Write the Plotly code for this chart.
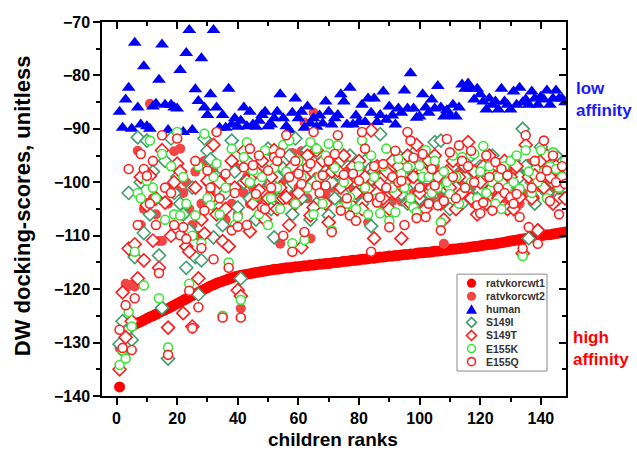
import plotly.graph_objects as go

ranks = list(range(1, 149))

wt1 = [-138.3, -131.5, -128.3, -127.2, -126.9, -126.6, -126.3, -126.1, -125.8, -125.5,
       -125.2, -125.0, -124.7, -124.4, -124.1, -123.9, -123.6, -123.3, -123.0, -122.7,
       -122.4, -122.1, -121.8, -121.5, -121.2, -120.9, -120.6, -120.3, -120.0, -119.7,
       -119.4, -119.2, -118.9, -118.7, -118.5, -118.3, -118.1, -117.9, -117.7, -117.6,
       -117.4, -117.3, -117.2, -117.1, -117.0, -116.9, -116.8, -116.7, -116.6, -116.5,
       -116.4, -116.3, -116.3, -116.2, -116.1, -116.0, -116.0, -115.9, -115.8, -115.8,
       -115.7, -115.6, -115.6, -115.5, -115.5, -115.4, -115.3, -115.3, -115.2, -115.2,
       -115.1, -115.0, -115.0, -114.9, -114.8, -114.8, -114.7, -114.6, -114.6, -114.5,
       -114.4, -114.4, -114.3, -114.2, -114.2, -114.1, -114.0, -114.0, -113.9, -113.8,
       -113.8, -113.7, -113.7, -113.6, -113.5, -113.5, -113.4, -113.4, -113.3, -113.2,
       -113.2, -113.1, -113.1, -113.0, -112.9, -112.9, -112.8, -112.7, -112.7, -112.6,
       -112.5, -112.5, -112.4, -112.3, -112.3, -112.2, -112.1, -112.0, -112.0, -111.9,
       -111.8, -111.7, -111.6, -111.6, -111.5, -111.4, -111.3, -111.2, -111.1, -111.0,
       -110.9, -110.8, -110.7, -110.6, -110.5, -110.4, -110.3, -110.2, -110.1, -110.0,
       -109.9, -109.8, -109.8, -109.7, -109.6, -109.5, -109.4, -109.3]

wt2 = [-131.0, -127.5, -119.0, -119.4, -119.2, -119.5, -94.1, -108.0, -105.0, -99.0,
       -85.3, -103.0, -106.0, -111.0, -111.0, -96.0, -104.0, -101.0, -94.2, -101.5,
       -93.7, -102.0, -100.0, -105.0, -108.0, -98.0, -110.0, -104.0, -96.0, -100.0,
       -102.0, -98.0, -105.0, -103.0, -99.0, -107.0, -101.0, -104.0, -97.0, -106.0,
       -123.6, -102.0, -99.0, -104.0, -101.0, -97.0, -103.0, -100.0, -98.0, -105.0,
       -102.0, -99.0, -103.0, -111.5, -100.0, -99.3, -102.0, -94.5, -104.0, -101.0,
       -94.2, -88.8, -103.0, -110.5, -87.0, -99.0, -104.0, -101.0, -102.2, -98.0,
       -101.0, -99.0, -96.0, -103.0, -100.0, -98.0, -104.0, -101.0, -99.0, -102.0,
       -97.0, -103.0, -107.5, -100.0, -98.0, -102.0, -99.0, -104.0, -101.0, -97.0,
       -103.5, -100.0, -98.0, -103.6, -101.0, -97.0, -99.0, -102.0, -100.0, -104.0,
       -98.0, -101.0, -99.0, -103.0, -97.0, -100.0, -102.0, -111.5, -99.0, -101.0,
       -98.0, -103.0, -100.0, -97.0, -102.0, -99.0, -101.0, -104.0, -98.0, -100.0,
       -103.0, -97.0, -101.0, -99.0, -102.0, -100.0, -98.0, -103.0, -100.0, -97.0,
       -101.0, -99.0, -104.0, -102.0, -98.0, -96.5, -100.0, -103.0, -99.0, -101.0,
       -97.0, -100.0, -102.0, -98.0, -101.0, -99.0, -103.0, -100.0]

human = [-86.8, -89.8, -84.5, -82.3, -90.0, -73.9, -86.0, -89.2, -78.3, -89.5,
         -90.0, -85.8, -85.3, -80.8, -74.2, -85.5, -90.2, -85.5, -86.0, -86.2,
         -79.0, -90.6, -75.8, -71.5, -90.2, -82.6, -84.8, -76.8, -86.0, -87.4,
         -83.5, -71.5, -86.0, -89.8, -87.4, -89.8, -82.5, -89.2, -88.0, -89.6,
         -88.5, -86.0, -89.5, -86.8, -89.2, -89.6, -88.5, -87.4, -86.8, -89.5,
         -89.2, -88.0, -86.8, -83.5, -88.0, -89.5, -90.2, -87.0, -84.3, -88.0,
         -86.8, -89.8, -85.8, -89.0, -88.0, -89.6, -87.5, -89.0, -84.9, -86.8,
         -89.2, -88.0, -87.4, -83.5, -84.9, -89.2, -82.3, -89.2, -87.5, -88.7,
         -85.5, -88.7, -84.3, -87.0, -84.3, -88.7, -87.4, -83.0, -88.3, -85.8,
         -87.5, -89.2, -86.2, -87.0, -82.8, -86.2, -79.6, -86.2, -87.9, -87.7,
         -83.5, -86.0, -87.0, -84.5, -86.2, -82.0, -86.0, -87.7, -86.5, -87.4,
         -85.5, -87.7, -86.0, -81.7, -82.5, -81.5, -82.5, -84.5, -82.5, -83.5,
         -84.9, -86.4, -84.3, -85.5, -84.9, -86.4, -82.5, -84.9, -85.5, -86.4,
         -83.0, -85.5, -82.3, -85.0, -84.5, -85.5, -83.0, -84.3, -85.5, -84.0,
         -84.5, -82.8, -85.5, -84.3, -82.8, -84.3, -84.3, -85.0]

s149i = [-130.3, -126.0, -128.0, -102.0, -129.5, -114.0, -91.6, -100.0, -109.5, -92.2,
         -106.0, -98.0, -103.0, -113.7, -123.5, -96.0, -133.0, -91.8, -102.0, -99.0,
         -104.0, -106.0, -116.0, -109.0, -101.0, -114.0, -121.0, -114.6, -91.8, -94.1,
         -95.7, -110.3, -99.0, -104.7, -108.0, -102.0, -112.0, -92.2, -98.0, -104.7,
         -118.0, -100.0, -96.0, -103.0, -99.3, -107.0, -100.0, -97.0, -102.0, -93.7,
         -105.0, -110.3, -99.0, -103.0, -97.4, -101.3, -95.0, -106.0, -91.8, -97.4,
         -103.0, -99.0, -94.0, -107.0, -100.0, -104.0, -95.0, -101.0, -98.0, -106.2,
         -100.0, -103.0, -98.4, -96.0, -102.2, -99.0, -95.0, -103.0, -100.0, -98.2,
         -104.0, -96.0, -100.0, -108.2, -98.0, -102.0, -91.0, -99.0, -104.0, -105.8,
         -97.0, -101.0, -95.0, -102.2, -99.0, -104.0, -97.0, -100.0, -94.0, -103.0,
         -99.0, -96.0, -102.0, -98.0, -92.5, -104.0, -92.2, -101.0, -99.0, -105.0,
         -97.0, -101.0, -96.0, -104.0, -99.0, -102.0, -95.0, -100.0, -103.0, -97.0,
         -100.0, -104.0, -98.0, -95.0, -101.0, -103.0, -99.0, -97.0, -102.0, -100.0,
         -96.0, -103.0, -99.0, -90.0, -97.0, -110.5, -100.0, -104.0, -109.0, -93.4,
         -99.0, -102.0, -97.0, -100.0, -95.0, -103.0, -98.0, -101.0]

s149t = [-135.0, -120.6, -129.0, -112.4, -126.0, -111.6, -118.0, -99.0, -114.6, -104.3,
         -98.8, -110.9, -103.0, -116.0, -94.0, -103.8, -127.2, -110.0, -100.0, -96.5,
         -98.0, -124.5, -112.0, -113.0, -127.0, -101.0, -118.0, -107.0, -109.6, -99.7,
         -103.0, -93.0, -106.0, -100.0, -111.0, -105.0, -112.0, -96.0, -101.0, -120.2,
         -121.3, -94.2, -99.7, -109.2, -104.0, -98.0, -101.5, -96.0, -107.0, -103.0,
         -99.0, -94.0, -105.0, -101.0, -103.0, -102.8, -108.0, -97.0, -104.0, -102.0,
         -112.2, -99.0, -95.0, -106.2, -104.7, -94.0, -101.0, -96.0, -104.0, -107.5,
         -98.0, -97.2, -97.8, -101.0, -95.0, -100.0, -104.0, -97.0, -102.0, -96.0,
         -105.0, -99.0, -101.2, -90.3, -110.5, -97.0, -100.3, -103.0, -98.0, -105.0,
         -96.0, -102.0, -97.0, -110.5, -100.0, -95.0, -104.0, -99.0, -93.0, -102.0,
         -98.0, -105.0, -96.0, -101.0, -95.0, -99.0, -104.0, -107.0, -98.0, -101.0,
         -96.0, -105.0, -99.0, -102.0, -97.0, -92.5, -103.0, -98.0, -106.0, -100.0,
         -97.0, -104.0, -95.0, -101.0, -99.0, -103.0, -100.0, -96.0, -105.0, -99.0,
         -105.0, -97.0, -102.8, -113.3, -93.0, -99.0, -103.0, -98.7, -109.0, -96.0,
         -101.0, -95.0, -99.0, -104.0, -97.0, -101.0, -99.0, -103.0]

e155k = [-134.2, -131.5, -133.0, -124.3, -127.0, -113.0, -102.0, -103.0, -119.3, -99.7,
         -92.2, -101.0, -103.0, -121.7, -94.7, -107.0, -130.9, -97.0, -106.0, -90.6,
         -106.2, -99.0, -104.0, -119.0, -110.0, -106.2, -97.0, -111.4, -90.9, -103.0,
         -104.3, -99.0, -96.5, -106.0, -125.0, -101.0, -115.0, -93.7, -108.0, -106.5,
         -122.0, -95.3, -92.5, -100.0, -97.8, -102.5, -106.0, -99.0, -94.0, -108.0,
         -103.0, -97.3, -101.0, -105.0, -93.0, -98.0, -92.2, -111.4, -104.0, -96.0,
         -99.0, -110.8, -101.0, -92.5, -106.0, -93.7, -99.0, -104.0, -95.0, -92.8,
         -109.0, -97.3, -93.1, -104.7, -100.0, -104.0, -102.8, -105.6, -105.0, -97.0,
         -92.2, -101.0, -106.0, -95.0, -99.0, -103.0, -105.8, -97.0, -93.7, -107.2,
         -101.0, -105.6, -95.6, -98.4, -101.0, -97.2, -103.0, -104.7, -105.6, -96.9,
         -99.0, -94.0, -99.0, -102.0, -96.0, -101.0, -107.5, -98.0, -100.0, -102.2,
         -95.0, -99.0, -104.0, -95.3, -101.0, -97.0, -100.0, -94.7, -103.0, -98.0,
         -93.2, -102.0, -97.0, -100.0, -104.0, -99.0, -105.0, -97.0, -101.0, -96.0,
         -100.0, -95.0, -101.2, -113.8, -94.0, -98.0, -102.0, -96.0, -100.0, -94.0,
         -98.0, -103.0, -97.0, -94.4, -97.5, -101.0, -99.0, -96.0]

e155q = [-127.6, -131.0, -123.0, -97.5, -131.4, -121.7, -108.0, -94.7, -97.5, -98.8,
         -104.0, -96.0, -108.0, -117.0, -91.2, -101.0, -132.3, -102.0, -108.0, -91.8,
         -109.9, -108.4, -110.6, -120.3, -127.3, -96.0, -123.4, -112.3, -105.3, -97.8,
         -101.0, -114.4, -90.6, -103.0, -125.3, -98.4, -116.0, -109.0, -102.0, -108.3,
         -125.3, -97.2, -108.0, -93.7, -96.8, -102.2, -95.0, -104.7, -105.0, -97.8,
         -101.0, -95.3, -96.0, -94.5, -110.0, -91.2, -99.0, -113.0, -96.0, -98.4,
         -100.3, -109.3, -97.2, -96.5, -90.6, -100.6, -102.0, -98.7, -100.6, -96.0,
         -109.3, -94.7, -91.2, -105.3, -98.6, -103.0, -106.2, -98.4, -107.2, -99.7,
         -90.6, -93.7, -102.8, -113.0, -97.0, -103.8, -102.8, -96.6, -101.0, -108.4,
         -99.0, -94.1, -100.0, -99.7, -108.0, -90.6, -92.2, -95.4, -106.7, -101.0,
         -94.7, -106.5, -104.0, -97.5, -100.6, -104.3, -109.0, -103.5, -91.9, -94.4,
         -99.0, -103.0, -93.1, -96.0, -101.0, -97.0, -94.1, -100.0, -104.3, -105.8,
         -103.8, -95.0, -99.0, -105.3, -96.2, -101.0, -97.5, -102.0, -98.7, -102.8,
         -104.0, -102.2, -106.5, -112.4, -91.2, -108.4, -101.0, -96.0, -111.5, -99.0,
         -92.2, -97.8, -103.5, -95.0, -100.0, -106.0, -97.0, -100.3]

names = ["ratvkorcwt1", "ratvkorcwt2", "human", "S149I", "S149T", "E155K", "E155Q"]
colors = ["#ff0000", "#f24545", "#0000f5", "#3f9e6e", "#ff1a1a", "#3ae63a", "#ff2020"]
symbols = ["circle", "circle", "triangle-up", "diamond", "diamond", "circle", "circle"]
filled = [True, True, True, False, False, False, False]
values = [wt1, wt2, human, s149i, s149t, e155k, e155q]
sizes = [11, 10, 12, 10, 10, 9, 9]

FONT = "Liberation Sans, Arial, sans-serif"

fig = go.Figure()
for name, vals, col, sym, fil, sz in zip(names, values, colors, symbols, filled, sizes):
    if fil:
        marker = dict(symbol=sym, size=sz, color=col, line=dict(width=0))
    else:
        marker = dict(symbol=sym, size=sz, color="white", line=dict(color=col, width=1.6))
    fig.add_trace(go.Scatter(x=ranks, y=vals, mode="markers", name=name,
                             marker=marker, showlegend=False))

# empty trace that carries the mirrored (top/right) axes
fig.add_trace(go.Scatter(x=[], y=[], xaxis="x2", yaxis="y2", showlegend=False))

XR = [-4.8, 148.3]
YR = [-140, -70]
tickfont = dict(family=FONT, size=16, color="black", weight="bold")
common_x = dict(range=XR, tickmode="linear", tick0=0, dtick=20, showgrid=False,
                zeroline=False, showline=True, linecolor="black", linewidth=1.5,
                tickcolor="black", tickwidth=1.5, ticklen=7)
common_y = dict(range=YR, tickmode="linear", tick0=-140, dtick=10, showgrid=False,
                zeroline=False, showline=True, linecolor="black", linewidth=1.5,
                tickcolor="black", tickwidth=1.5, ticklen=7)

L, R, T, B = 102, 71, 21.5, 62
W, H = 637, 458
pw, ph = W - L - R, H - T - B


def px_x(px):
    return (px - L) / pw


def px_y(py):
    return 1 - (py - T) / ph


fig.update_layout(
    width=W, height=H,
    margin=dict(l=L, r=R, t=T, b=B, pad=0, autoexpand=False),
    paper_bgcolor="white", plot_bgcolor="white",
    xaxis=dict(**common_x, ticks="outside", tickfont=tickfont,
               minor=dict(tick0=0, dtick=10, ticks="outside", ticklen=4,
                          tickwidth=1.5, tickcolor="black")),
    xaxis2=dict(**common_x, overlaying="x", side="top", anchor="y", ticks="inside",
                showticklabels=False,
                minor=dict(tick0=0, dtick=10, ticks="inside", ticklen=4,
                           tickwidth=1.5, tickcolor="black")),
    yaxis=dict(**common_y, ticks="outside", tickfont=tickfont,
               minor=dict(tick0=-140, dtick=5, ticks="outside", ticklen=4,
                          tickwidth=1.5, tickcolor="black")),
    yaxis2=dict(**common_y, overlaying="y", side="right", anchor="x", ticks="inside",
                showticklabels=False,
                minor=dict(tick0=-140, dtick=5, ticks="inside", ticklen=4,
                           tickwidth=1.5, tickcolor="black")),
    showlegend=False,
)

annotations = [
    dict(text="children ranks", x=px_x(333), y=px_y(440), xref="paper", yref="paper",
         showarrow=False, xanchor="center", yanchor="middle",
         font=dict(family=FONT, size=19, color="black", weight="bold")),
    dict(text="DW docking-scores, unitless", x=px_x(22), y=px_y(206), xref="paper",
         yref="paper", showarrow=False, textangle=-90, xanchor="center", yanchor="middle",
         font=dict(family=FONT, size=22, color="black", weight="bold")),
    dict(text="low<br>affinity", x=px_x(574), y=px_y(99), xref="paper", yref="paper",
         showarrow=False, xanchor="left", yanchor="middle", align="left",
         font=dict(family=FONT, size=17, color="#1a1aff", weight="bold")),
    dict(text="high<br>affinity", x=px_x(571), y=px_y(348), xref="paper", yref="paper",
         showarrow=False, xanchor="left", yanchor="middle", align="left",
         font=dict(family=FONT, size=17, color="#ff0000", weight="bold")),
]

shapes = [dict(type="rect", xref="paper", yref="paper",
               x0=px_x(457), x1=px_x(547), y0=px_y(371), y1=px_y(274),
               line=dict(color="#8a8a8a", width=1), fillcolor="white", layer="above")]

sym_x = 471.5
for i, (name, col, sym, fil) in enumerate(zip(names, colors, symbols, filled)):
    py = 283 + 13.1 * i
    fill = col if fil else "white"
    lw = 0 if fil else 1.6
    base = dict(xref="paper", yref="paper", xsizemode="pixel", ysizemode="pixel",
                xanchor=px_x(sym_x), yanchor=px_y(py), fillcolor=fill,
                line=dict(color=col, width=lw), layer="above")
    if sym == "circle":
        r = 4.6 if fil else 4.0
        shapes.append(dict(type="circle", x0=-r, x1=r, y0=-r, y1=r, **base))
    elif sym == "diamond":
        shapes.append(dict(type="path", path="M0,5 L5,0 L0,-5 L-5,0 Z", **base))
    else:
        shapes.append(dict(type="path", path="M-5.5,-4.5 L5.5,-4.5 L0,5 Z", **base))
    annotations.append(dict(text=name, x=px_x(484), y=px_y(py), xref="paper",
                            yref="paper", showarrow=False, xanchor="left",
                            yanchor="middle",
                            font=dict(family=FONT, size=10.5, color="#333333",
                                      weight="bold")))

fig.update_layout(annotations=annotations, shapes=shapes)
fig.write_html("out.html", config={"displayModeBar": False},
               post_script="document.body.style.margin='0';"
                           "document.body.style.padding='0';")
